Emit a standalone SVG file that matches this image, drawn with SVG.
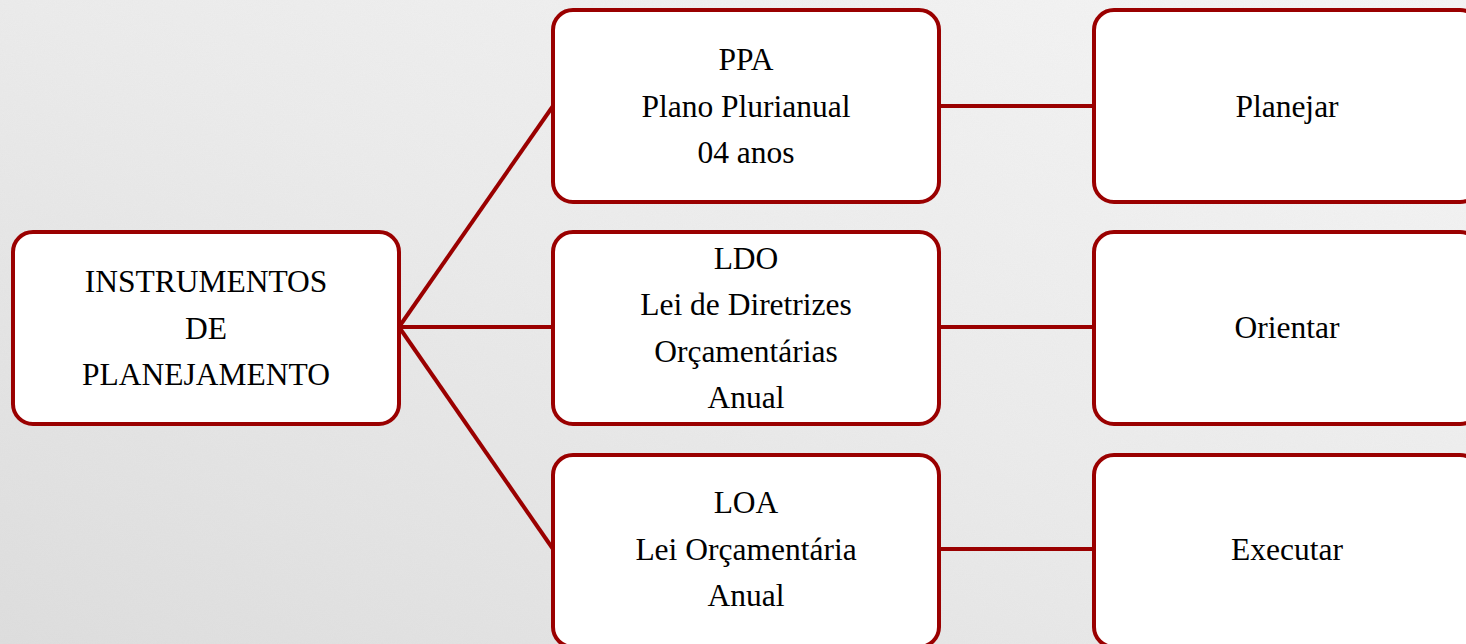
<svg xmlns="http://www.w3.org/2000/svg" width="1466" height="644" viewBox="0 0 1466 644">
<defs>
<linearGradient id="bg" x1="1" y1="0" x2="0" y2="1">
<stop offset="0" stop-color="#f6f6f6"/>
<stop offset="0.5" stop-color="#ececec"/>
<stop offset="1" stop-color="#dedede"/>
</linearGradient>
<filter id="tex" x="0" y="0" width="100%" height="100%">
<feTurbulence type="fractalNoise" baseFrequency="0.9" numOctaves="2" seed="3" result="n"/>
<feColorMatrix in="n" type="matrix" values="0 0 0 0 0.5  0 0 0 0 0.5  0 0 0 0 0.5  0 0 0 0.08 0"/>
</filter>
</defs>
<style>
.box{fill:#ffffff;stroke:#9a0000;stroke-width:4}
.ln{stroke:#9a0000;stroke-width:4;fill:none}
text{font-family:"Liberation Serif","Times New Roman",serif;font-size:31.5px;fill:#000;text-anchor:middle}
</style>
<rect x="0" y="0" width="1466" height="644" fill="url(#bg)"/>
<rect x="0" y="0" width="1466" height="644" filter="url(#tex)"/>
<g id="connectors">
<line class="ln" x1="399" y1="327" x2="553" y2="106"/>
<line class="ln" x1="399" y1="327" x2="553" y2="327"/>
<line class="ln" x1="399" y1="327" x2="553" y2="549"/>
<line class="ln" x1="939" y1="106" x2="1094" y2="106"/>
<line class="ln" x1="939" y1="327" x2="1094" y2="327"/>
<line class="ln" x1="939" y1="549" x2="1094" y2="549"/>
</g>
<g id="instrumentos">
<rect class="box" x="13" y="232" width="386" height="192" rx="20"/>
<text x="206" y="292">INSTRUMENTOS</text>
<text x="206" y="338.5">DE</text>
<text x="206" y="385">PLANEJAMENTO</text>
</g>
<g id="ppa">
<rect class="box" x="553" y="10" width="386" height="192" rx="20"/>
<text x="746" y="70">PPA</text>
<text x="746" y="116.5">Plano Plurianual</text>
<text x="746" y="163">04 anos</text>
</g>
<g id="ldo">
<rect class="box" x="553" y="232" width="386" height="192" rx="20"/>
<text x="746" y="268.5">LDO</text>
<text x="746" y="315">Lei de Diretrizes</text>
<text x="746" y="361.5">Orçamentárias</text>
<text x="746" y="408">Anual</text>
</g>
<g id="loa">
<rect class="box" x="553" y="455" width="386" height="192" rx="20"/>
<text x="746" y="513">LOA</text>
<text x="746" y="559.5">Lei Orçamentária</text>
<text x="746" y="606">Anual</text>
</g>
<g id="planejar">
<rect class="box" x="1094" y="10" width="386" height="192" rx="20"/>
<text x="1287" y="116.5">Planejar</text>
</g>
<g id="orientar">
<rect class="box" x="1094" y="232" width="386" height="192" rx="20"/>
<text x="1287" y="338">Orientar</text>
</g>
<g id="executar">
<rect class="box" x="1094" y="455" width="386" height="192" rx="20"/>
<text x="1287" y="559.5">Executar</text>
</g>
</svg>
